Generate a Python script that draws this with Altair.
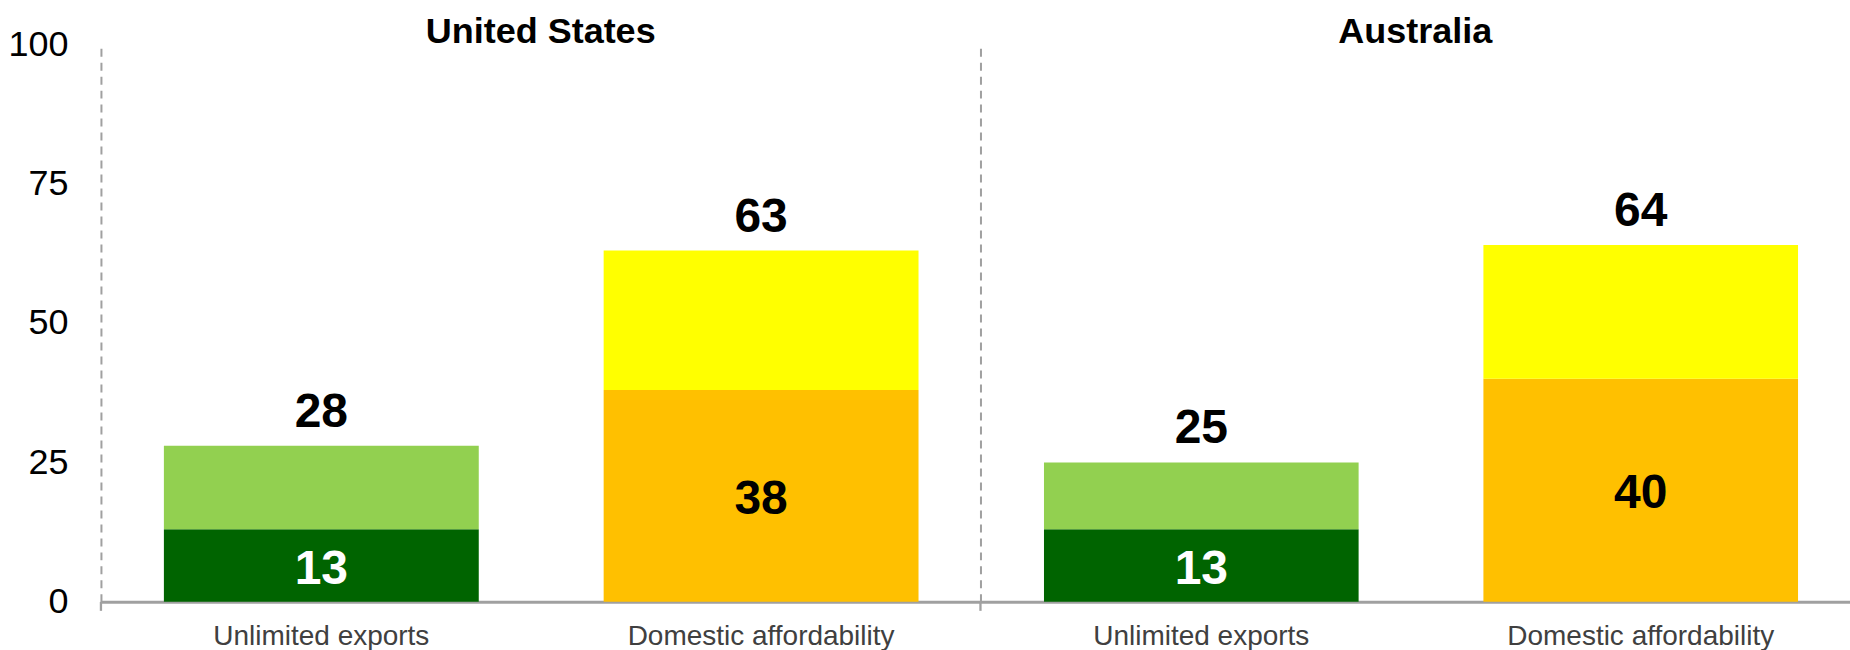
import altair as alt
import pandas as pd

FONT = "Liberation Sans"

countries = ["United States", "Australia"]
scenarios = ["Unlimited exports", "Domestic affordability"]
base_values = {"United States": [13, 38], "Australia": [13, 40]}
total_values = {"United States": [28, 63], "Australia": [25, 64]}
segment_names = ["Unlimited exports (lower)", "Unlimited exports (upper)",
                 "Domestic affordability (lower)", "Domestic affordability (upper)"]
segment_colors = ["#006400", "#92D050", "#FFC000", "#FFFF00"]
base_label_colors = ["#FFFFFF", "#000000"]
y_ticks = [0, 25, 50, 75, 100]

H = 558
GRAY = "#A0A0A0"


def panel(country, width, p_outer, align, first):
    seg_rows, lab_rows = [], []
    for j, s in enumerate(scenarios):
        b = base_values[country][j]
        t = total_values[country][j]
        seg_rows.append({"scenario": s, "y0": 0, "y1": b, "segment": segment_names[2 * j]})
        seg_rows.append({"scenario": s, "y0": b, "y1": t, "segment": segment_names[2 * j + 1]})
        lab_rows.append({"scenario": s, "base": b, "total": t, "lc": base_label_colors[j]})
    seg_df = pd.DataFrame(seg_rows)
    lab_df = pd.DataFrame(lab_rows)
    title_df = pd.DataFrame({"country": [country]})

    xscale = alt.Scale(domain=scenarios, paddingInner=0.284, paddingOuter=p_outer, align=align)
    yscale = alt.Scale(domain=[0, 100], nice=False, zero=True)
    xaxis = alt.Axis(title=None, labelAngle=0, ticks=False, labelPadding=21,
                     labelFontSize=28, labelColor="#404040", labelFont=FONT,
                     labelLimit=0, domainColor=GRAY, domainWidth=3, grid=False)
    if first:
        yaxis = alt.Axis(title=None, values=y_ticks, ticks=False, grid=False,
                         labelFontSize=36, labelFont=FONT, labelColor="#000000",
                         labelPadding=33, domainColor=GRAY, domainWidth=2,
                         domainDash=[8, 6])
    else:
        yaxis = alt.Axis(title=None, labels=False, ticks=False, grid=False,
                         domainColor=GRAY, domainWidth=2, domainDash=[8, 6])

    X = alt.X("scenario:N", scale=xscale, axis=xaxis, sort=scenarios)

    bars = alt.Chart(seg_df).mark_bar().encode(
        x=X,
        y=alt.Y("y0:Q", scale=yscale, axis=yaxis),
        y2="y1:Q",
        color=alt.Color("segment:N", scale=alt.Scale(domain=segment_names, range=segment_colors),
                        legend=None),
    )
    totals = alt.Chart(lab_df).mark_text(
        baseline="alphabetic", dy=-19, fontSize=48, fontWeight="bold", font=FONT, color="#000000"
    ).encode(
        x=X,
        y=alt.Y("total:Q", scale=yscale, axis=yaxis),
        text="total:Q",
    )
    bases = alt.Chart(lab_df).transform_calculate(mid="datum.base / 2").mark_text(
        baseline="alphabetic", dy=18, fontSize=48, fontWeight="bold", font=FONT
    ).encode(
        x=X,
        y=alt.Y("mid:Q", scale=yscale, axis=yaxis),
        text="base:Q",
        color=alt.Color("lc:N", scale=None),
    )
    title = alt.Chart(title_df).mark_text(
        baseline="alphabetic", align="center", fontSize=36, fontWeight="bold", font=FONT,
        color="#000000"
    ).encode(x=alt.value(width / 2), y=alt.value(-1), text="country:N")
    sep = alt.Chart(title_df).mark_rule(color=GRAY, strokeWidth=2.3).encode(
        x=alt.value(0), y=alt.value(H), y2=alt.value(H + 9)
    )
    return alt.layer(bars, totals, bases, title, sep).properties(width=width, height=H)


p1 = panel("United States", 880, 0.142, 0.504, True)
p2 = panel("Australia", 870, 0.1314, 0.55, False)

chart = alt.hconcat(p1, p2, spacing=0, bounds="flush").configure_view(stroke=None).properties(
    padding={"left": 7, "top": 14, "right": 0, "bottom": 0},
    background="#FFFFFF",
)

chart.save("out.html", embed_options={"renderer": "svg", "actions": False})
